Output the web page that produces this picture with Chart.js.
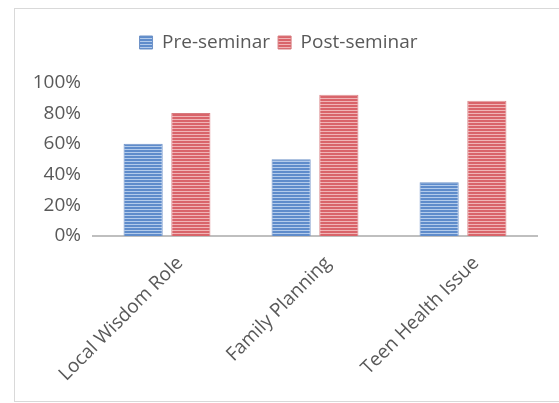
<!DOCTYPE html>
<html>
<head>
<meta charset="utf-8">
<script src="https://cdn.jsdelivr.net/npm/chart.js@4"></script>
<style>
  html, body { margin: 0; padding: 0; background: #fff; }
  body { width: 559px; height: 403px; position: relative; overflow: hidden; }
  #frame { position: absolute; left: 14px; top: 8px; width: 600px; height: 394px; border: 1px solid #d9d9d9; box-sizing: border-box; }
  #wrap { position: absolute; left: 0; top: 0; width: 559px; height: 403px; }
</style>
</head>
<body>
<div id="frame"></div>
<div id="wrap"><canvas id="chart"></canvas></div>
<script>
const categories = ['Local Wisdom Role', 'Family Planning', 'Teen Health Issue'];
const preSeminar = [60, 50, 35];
const postSeminar = [80, 92, 88];
const yTicks = [0, 20, 40, 60, 80, 100];

// striped fill like the original bars
function stripes(base, light) {
    const c = document.createElement('canvas');
    c.width = 4;
    c.height = 3;
    const g = c.getContext('2d');
    g.fillStyle = base;
    g.fillRect(0, 0, 4, 3);
    g.fillStyle = light;
    g.fillRect(0, 2, 4, 1);
    return g.createPattern(c, 'repeat');
}

const ctx = document.getElementById('chart').getContext('2d');
const blue = stripes('#5f8ccb', '#b3cbeb');
const red = stripes('#d9646a', '#f0b4b6');

const font = { family: '"Open Sans", "Liberation Sans", sans-serif', size: 19 };

new Chart(ctx, {
    type: 'bar',
    data: {
        labels: categories,
        datasets: [{
            label: 'Pre-seminar',
            data: preSeminar,
            backgroundColor: blue,
            borderColor: '#6f93c8',
            borderWidth: 1,
            barPercentage: 0.82,
            categoryPercentage: 0.645
        }, {
            label: 'Post-seminar',
            data: postSeminar,
            backgroundColor: red,
            borderColor: '#d77a7e',
            borderWidth: 1,
            barPercentage: 0.82,
            categoryPercentage: 0.645
        }]
    },
    options: {
        responsive: true,
        maintainAspectRatio: false,
        animation: false,
        layout: { padding: { left: 20, right: 22, top: 25, bottom: 0 } },
        plugins: {
            legend: {
                position: 'top',
                weight: 3000,
                labels: { font: font, color: '#595959', boxWidth: 13, boxHeight: 13, padding: 8 }
            },
            // empty title used as a spacer between legend and plot
            title: {
                display: true,
                text: ' ',
                position: 'top',
                weight: 500,
                font: { size: 12 },
                padding: { top: 0, bottom: 6 }
            },
            tooltip: { enabled: false }
        },
        scales: {
            x: {
                grid: { display: false, drawTicks: false },
                border: { display: true, color: '#bfbfbf', width: 2 },
                ticks: { font: font, color: '#595959', minRotation: 45, maxRotation: 45, padding: 16, labelOffset: 13 },
                afterFit: s => { s.height = 167; }
            },
            y: {
                min: 0,
                max: 100,
                grid: { display: false, drawTicks: false },
                border: { display: false },
                afterBuildTicks: s => { s.ticks = yTicks.map(v => ({ value: v })); },
                ticks: { font: font, color: '#595959', padding: 12, callback: v => v + '%' },
                afterFit: s => { s.width = 73; }
            }
        }
    }
});
</script>
</body>
</html>
